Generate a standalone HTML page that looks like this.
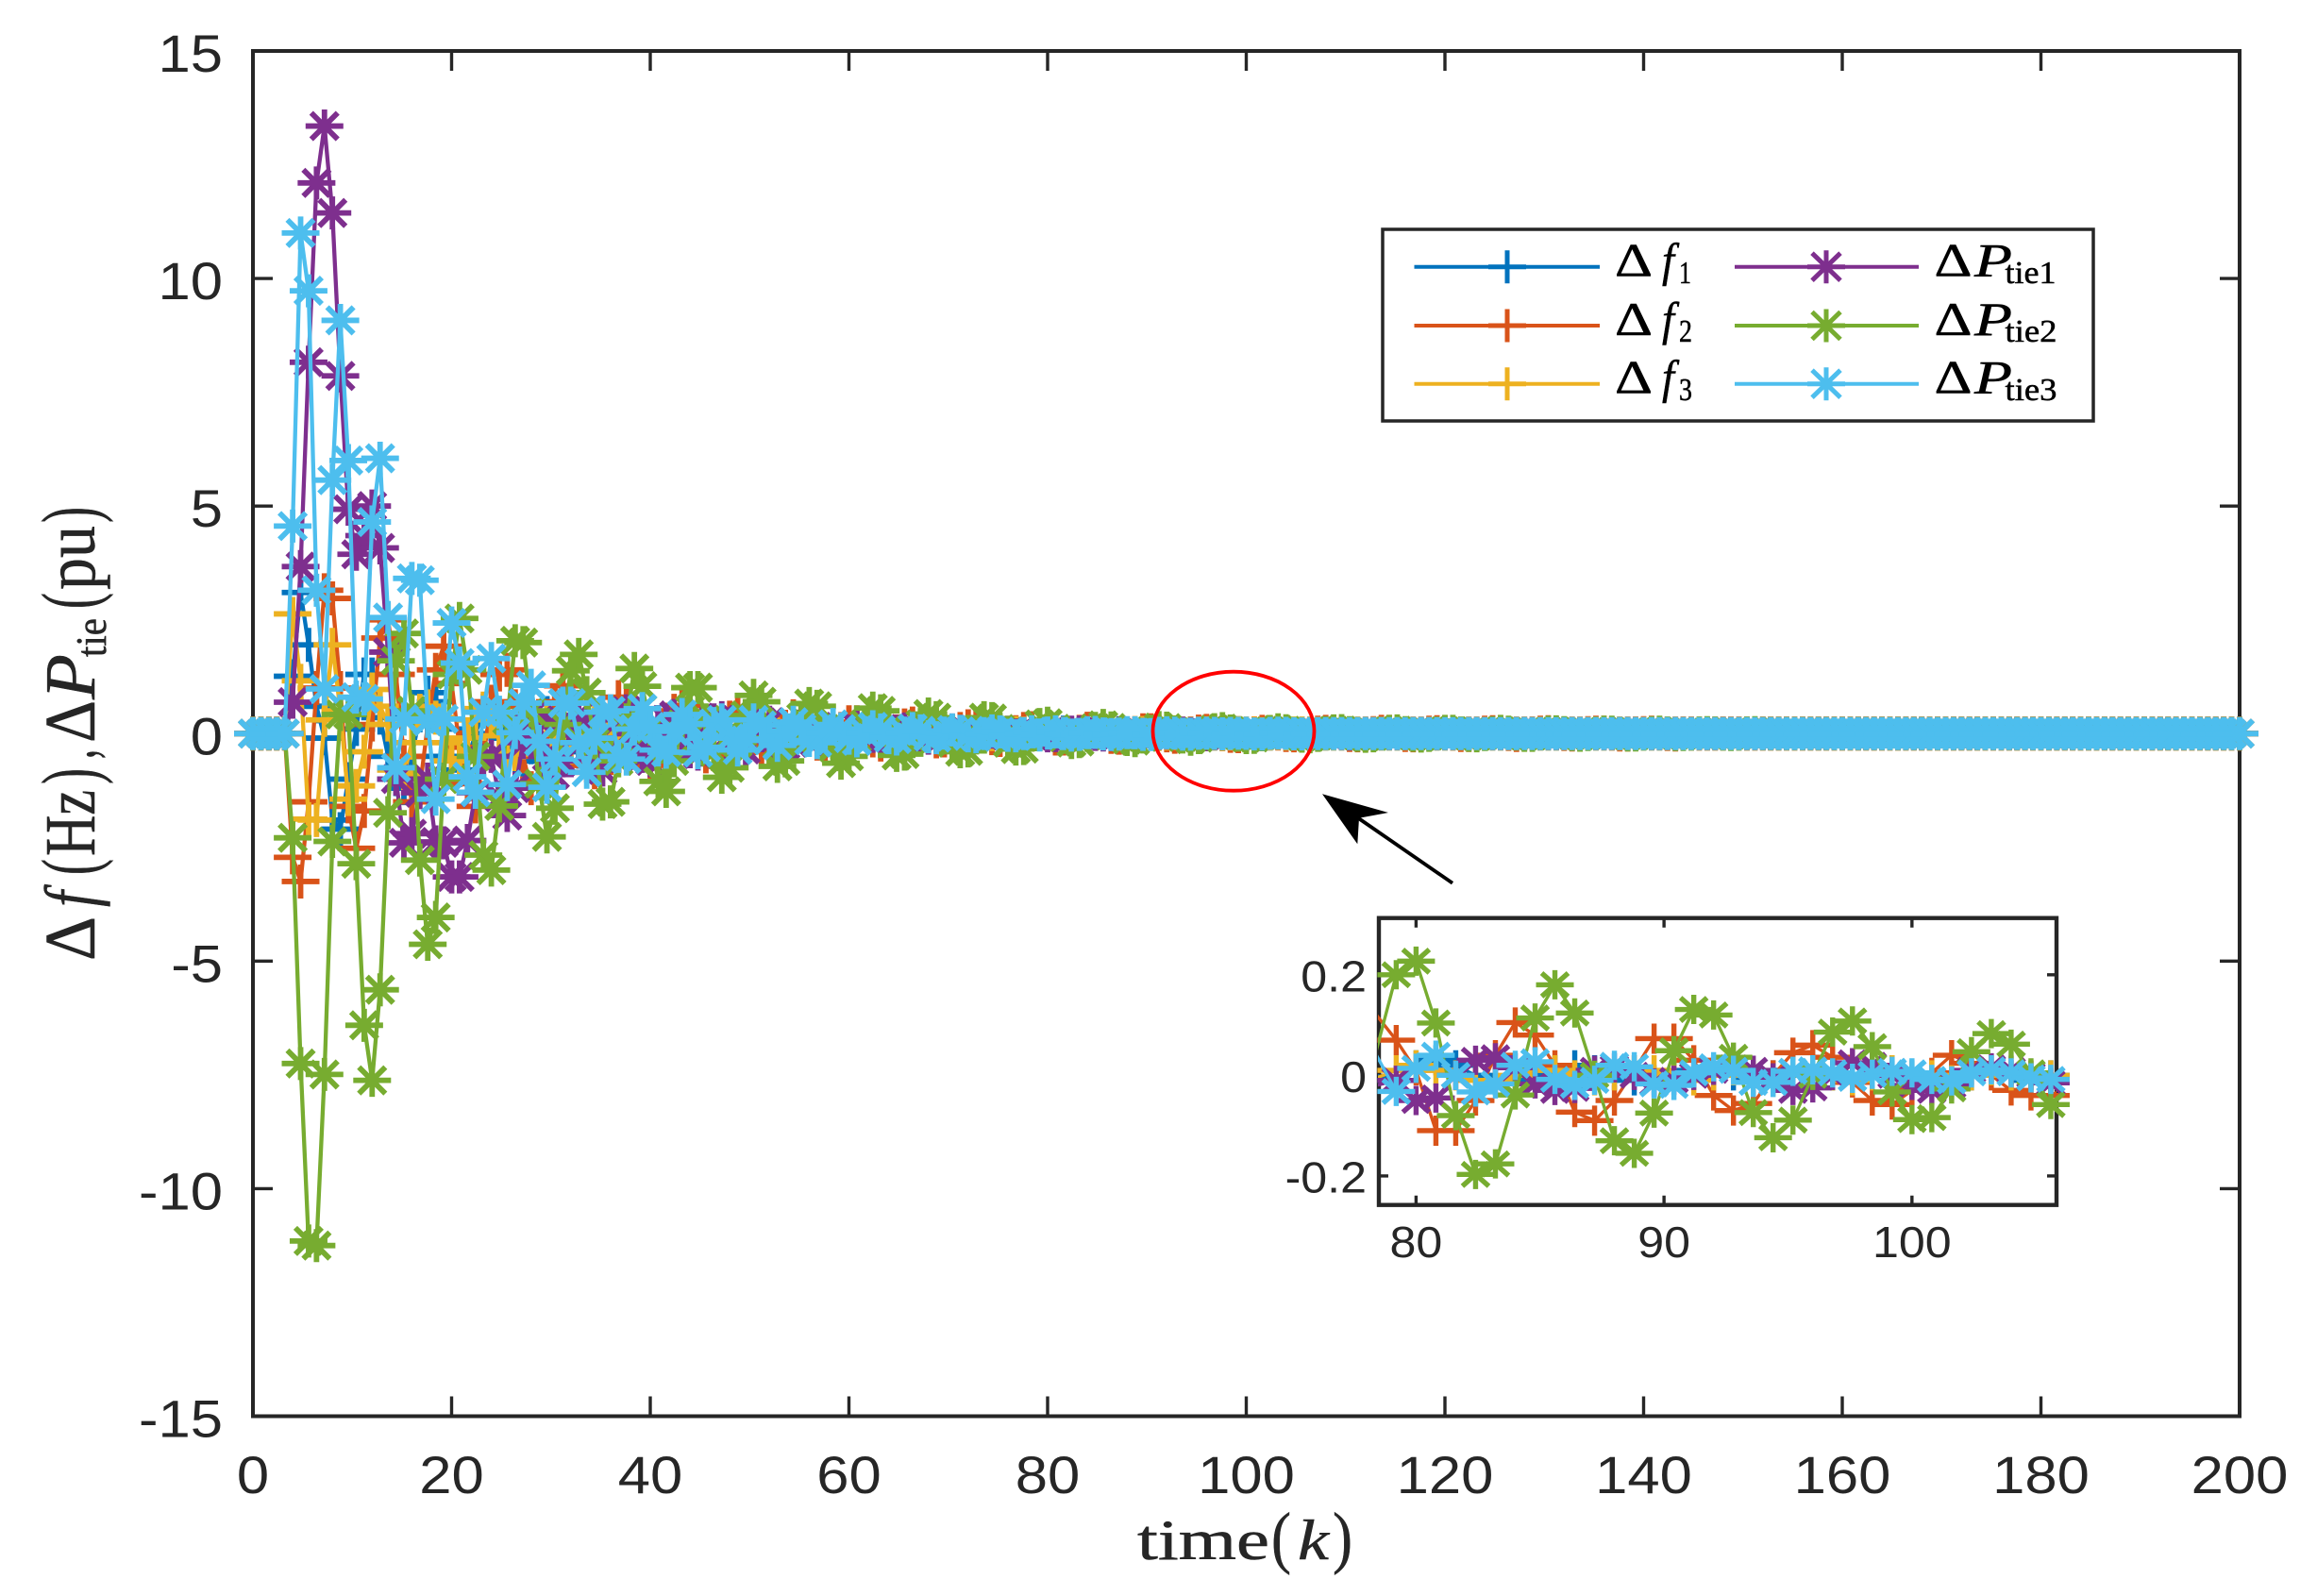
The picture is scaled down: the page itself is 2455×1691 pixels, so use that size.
<!DOCTYPE html>
<html>
<head>
<meta charset="utf-8">
<title>Frequency and tie-line power deviation</title>
<style>
html,body{margin:0;padding:0;background:#fff;width:2455px;height:1691px;max-height:1691px;overflow:hidden;font-size:0;line-height:0;}
svg{position:absolute;left:0;top:0;display:block;overflow:hidden;}
script{display:none;}
.tk{font-family:"Liberation Sans",sans-serif;fill:#262626;}
.mt{font-family:"Liberation Serif",serif;fill:#262626;stroke:#262626;stroke-width:0.5;}
.lg{font-family:"Liberation Serif",serif;fill:#000;stroke:#000;stroke-width:0.5;}
.it{font-style:italic;}
</style>
</head>
<body>
<svg id="chart" xmlns="http://www.w3.org/2000/svg" width="2455" height="1691" viewBox="0 0 2455 1691">
  <defs>
    <clipPath id="inset-clip"><rect x="1460" y="973" width="719" height="304"/></clipPath>
  </defs>
  <rect x="0" y="0" width="2455" height="1691" fill="#fff"/>
  <g id="main-axes"></g>

  <ellipse cx="1307" cy="774.7" rx="85.5" ry="63" fill="none" stroke="#ff0000" stroke-width="3.8"/>
  <g>
    <line x1="1539" y1="935.7" x2="1438" y2="866" stroke="#000" stroke-width="3.8"/>
    <polygon points="1401,841.3 1471,861 1440,866.7 1438.3,894.3" fill="#000"/>
  </g>

  <g>
    <text class="mt" x="1205" y="1652" font-size="60" textLength="140" lengthAdjust="spacingAndGlyphs">time</text>
    <text class="mt" x="1347" y="1653" font-size="73" textLength="21" lengthAdjust="spacingAndGlyphs">(</text>
    <text class="mt it" x="1375" y="1652" font-size="60" textLength="33" lengthAdjust="spacingAndGlyphs">k</text>
    <text class="mt" x="1412" y="1653" font-size="73" textLength="21" lengthAdjust="spacingAndGlyphs">)</text>
  </g>

  <g transform="translate(100,1018) rotate(-90)">
    <text class="mt" x="0" y="0" font-size="76" textLength="47" lengthAdjust="spacingAndGlyphs">Δ</text>
    <text class="mt it" x="57" y="0" font-size="76" textLength="17" lengthAdjust="spacingAndGlyphs">f</text>
    <text class="mt" x="91" y="2" font-size="84" textLength="17" lengthAdjust="spacingAndGlyphs">(</text>
    <text class="mt" x="111" y="0" font-size="76" textLength="70" lengthAdjust="spacingAndGlyphs">Hz</text>
    <text class="mt" x="187" y="2" font-size="84" textLength="17" lengthAdjust="spacingAndGlyphs">)</text>
    <text class="mt" x="214" y="0" font-size="76" textLength="10" lengthAdjust="spacingAndGlyphs">,</text>
    <text class="mt" x="231" y="0" font-size="76" textLength="45" lengthAdjust="spacingAndGlyphs">Δ</text>
    <text class="mt it" x="277" y="0" font-size="76" textLength="48" lengthAdjust="spacingAndGlyphs">P</text>
    <text class="mt" x="322" y="12" font-size="46" textLength="41" lengthAdjust="spacingAndGlyphs">tie</text>
    <text class="mt" x="373" y="2" font-size="84" textLength="17" lengthAdjust="spacingAndGlyphs">(</text>
    <text class="mt" x="393" y="0" font-size="76" textLength="68" lengthAdjust="spacingAndGlyphs">pu</text>
    <text class="mt" x="464" y="2" font-size="84" textLength="17" lengthAdjust="spacingAndGlyphs">)</text>
  </g>

  <g id="inset-axes"></g>

  <g>
    <rect x="1465" y="243" width="753" height="203" fill="#fff" stroke="#262626" stroke-width="3.5"/>
    <g>
      <line x1="1498.5" y1="282.7" x2="1695" y2="282.7" stroke="#0072BD" stroke-width="4"/>
      <path transform="translate(1597,282.7)" d="M-20 0H20M0-17.5V17.5" fill="none" stroke="#0072BD" stroke-width="5"/>
      <text class="lg" x="1711" y="292.7" font-size="50" textLength="40" lengthAdjust="spacingAndGlyphs">Δ</text>
      <text class="lg it" x="1761" y="292.7" font-size="50" textLength="13" lengthAdjust="spacingAndGlyphs">f</text>
      <text class="lg" x="1779" y="300" font-size="34" textLength="13" lengthAdjust="spacingAndGlyphs">1</text>
    </g>
    <g>
      <line x1="1498.5" y1="345" x2="1695" y2="345" stroke="#D95319" stroke-width="4"/>
      <path transform="translate(1597,345)" d="M-20 0H20M0-17.5V17.5" fill="none" stroke="#D95319" stroke-width="5"/>
      <text class="lg" x="1711" y="355" font-size="50" textLength="40" lengthAdjust="spacingAndGlyphs">Δ</text>
      <text class="lg it" x="1761" y="355" font-size="50" textLength="13" lengthAdjust="spacingAndGlyphs">f</text>
      <text class="lg" x="1779" y="362" font-size="34" textLength="14" lengthAdjust="spacingAndGlyphs">2</text>
    </g>
    <g>
      <line x1="1498.5" y1="406.7" x2="1695" y2="406.7" stroke="#EDB120" stroke-width="4"/>
      <path transform="translate(1597,406.7)" d="M-20 0H20M0-17.5V17.5" fill="none" stroke="#EDB120" stroke-width="5"/>
      <text class="lg" x="1711" y="416.7" font-size="50" textLength="40" lengthAdjust="spacingAndGlyphs">Δ</text>
      <text class="lg it" x="1761" y="416.7" font-size="50" textLength="13" lengthAdjust="spacingAndGlyphs">f</text>
      <text class="lg" x="1779" y="424" font-size="34" textLength="14" lengthAdjust="spacingAndGlyphs">3</text>
    </g>
    <g>
      <line x1="1838" y1="282.7" x2="2033" y2="282.7" stroke="#7E2F8E" stroke-width="4"/>
      <path transform="translate(1935,282.7)" d="M-20 0H20M0-17.5V17.5M-15-14.5L15 14.5M-15 14.5L15-14.5" fill="none" stroke="#7E2F8E" stroke-width="5"/>
      <text class="lg" x="2049.5" y="292.7" font-size="50" textLength="40" lengthAdjust="spacingAndGlyphs">Δ</text>
      <text class="lg it" x="2092" y="292.7" font-size="50" textLength="40" lengthAdjust="spacingAndGlyphs">P</text>
      <text class="lg" x="2124.5" y="300" font-size="34" textLength="54" lengthAdjust="spacingAndGlyphs">tie1</text>
    </g>
    <g>
      <line x1="1838" y1="345" x2="2033" y2="345" stroke="#77AC30" stroke-width="4"/>
      <path transform="translate(1935,345)" d="M-20 0H20M0-17.5V17.5M-15-14.5L15 14.5M-15 14.5L15-14.5" fill="none" stroke="#77AC30" stroke-width="5"/>
      <text class="lg" x="2049.5" y="355" font-size="50" textLength="40" lengthAdjust="spacingAndGlyphs">Δ</text>
      <text class="lg it" x="2092" y="355" font-size="50" textLength="40" lengthAdjust="spacingAndGlyphs">P</text>
      <text class="lg" x="2124.5" y="362" font-size="34" textLength="55" lengthAdjust="spacingAndGlyphs">tie2</text>
    </g>
    <g>
      <line x1="1838" y1="406.7" x2="2033" y2="406.7" stroke="#4DBEEE" stroke-width="4"/>
      <path transform="translate(1935,406.7)" d="M-20 0H20M0-17.5V17.5M-15-14.5L15 14.5M-15 14.5L15-14.5" fill="none" stroke="#4DBEEE" stroke-width="5"/>
      <text class="lg" x="2049.5" y="416.7" font-size="50" textLength="40" lengthAdjust="spacingAndGlyphs">Δ</text>
      <text class="lg it" x="2092" y="416.7" font-size="50" textLength="40" lengthAdjust="spacingAndGlyphs">P</text>
      <text class="lg" x="2124.5" y="424" font-size="34" textLength="55" lengthAdjust="spacingAndGlyphs">tie3</text>
    </g>
  </g>
</svg>

<script>
const sampleStep = 0.8;
const xTicks = [0,20,40,60,80,100,120,140,160,180,200];
const yTicks = [-15,-10,-5,0,5,10,15];
const insetXTicks = [80,90,100];
const insetYTicks = [-0.2,0,0.2];
const insetYLabels = ['-0.2','0','0.2'];

const deltaF1 = [
0,0,0,0,0,1.26,3.1,1.95,0.6,-0.1,
-1.9,-2.1,-1.0,0.1,1.3,1.3,0.35,-0.5,-1.0,-1.2,
-0.5,0.4,0.9,0.7,0.1,-0.5,-0.8,-0.6,0,0.5,
0.65,0.4,-0.1,-0.5,-0.6,-0.3,0.2,0.45,0.4,0,
-0.3,-0.4,-0.3,0.05,0.3,0.35,0.1,-0.2,-0.3,-0.2,
0.05,0.25,0.25,0.05,-0.15,-0.22,-0.12,0.08,0.18,0.15,
-0.02,-0.15,-0.15,-0.03,0.1,0.13,0.05,-0.08,-0.12,-0.05,
0.05,0.1,0.07,-0.03,-0.08,-0.07,0.01,0.07,0.07,0,
-0.05,-0.06,-0.02,0.04,0.05,0.02,-0.03,-0.04,-0.02,0.02,
0.03,0.02,-0.01,-0.03,-0.02,0.01,0.02,0.02,0,-0.01,
0.02,0.03,0.02,0,-0.01,-0.01,0,0.01,0.02,0.01,
0,-0.01,-0.01,0,0.01,0.01,0,-0.01,0,0.01,
0.01,0,-0.01,0,0.01,0,-0.01,0,0,0.01,
0,-0.01,0,0,0,0,0,0,0,0,
0,0,0,0,0,0,0,0,0,0,
0,0,0,0,0,0,0,0,0,0,
0,0,0,0,0,0,0,0,0,0,
0,0,0,0,0,0,0,0,0,0,
0,0,0,0,0,0,0,0,0,0,
0,0,0,0,0,0,0,0,0,0,
0,0,0,0,0,0,0,0,0,0,
0,0,0,0,0,0,0,0,0,0,
0,0,0,0,0,0,0,0,0,0,
0,0,0,0,0,0,0,0,0,0,
0,0,0,0,0,0,0,0,0,0,
0];
const deltaF2 = [
0,0,0,0,0,-2.72,-3.25,-1.5,1.0,3.15,
2.97,1.0,-1.6,-2.52,-1.7,0.2,2.1,2.5,1.3,-0.5,
-1.5,-1.2,0.2,1.4,1.92,1.1,-0.3,-1.1,-1.6,-0.5,
0.7,1.3,1.4,0.6,-0.5,-1.2,-1.0,-0.2,0.7,1.05,
0.8,-0.1,-0.7,-0.85,-0.4,0.3,0.8,0.7,0.2,-0.4,
-0.7,-0.5,0,0.5,0.62,0.4,-0.1,-0.5,-0.45,-0.1,
0.35,0.5,0.3,-0.1,-0.35,-0.4,-0.15,0.15,0.38,0.3,
0.05,-0.22,-0.3,-0.15,0.1,0.25,0.25,0.05,-0.15,-0.24,
-0.15,0.05,0.18,0.22,0.1,-0.08,-0.17,-0.15,-0.03,0.1,
0.16,0.13,0,-0.1,-0.14,-0.08,0.03,0.1,0.12,0.07,
0.01,-0.11,-0.11,-0.05,0.04,0.105,0.08,0.02,-0.073,-0.09,
-0.05,0.01,0.073,0.073,0.03,-0.04,-0.07,-0.056,0,0.045,
0.06,0.036,-0.014,-0.05,-0.058,-0.03,0.005,0.04,0.024,0,
-0.03,-0.04,-0.04,-0.02,0.02,0.04,0.04,0.01,-0.03,-0.04,
-0.03,0.01,0.04,0.04,0.01,-0.03,-0.04,-0.02,0.02,0.03,
0.03,0,-0.03,-0.03,-0.01,0.02,0.03,0.02,-0.01,-0.03,
-0.02,0,0.02,0.03,0.01,-0.01,-0.02,-0.02,0.01,0.02,
0.02,0,-0.02,-0.02,0,0.01,0.02,0.01,-0.01,-0.02,
0,0,0,0,0,0,0,0,0,0,
0,0,0,0,0,0,0,0,0,0,
0,0,0,0,0,0,0,0,0,0,
0,0,0,0,0,0,0,0,0,0,
0,0,0,0,0,0,0,0,0,0,
0,0,0,0,0,0,0,0,0,0,
0,0,0,0,0,0,0,0,0,0,
0];
const deltaF3 = [
0,0,0,0,0,2.63,1.16,-1.88,-1.9,0.3,
1.95,0.5,-1.44,-1.15,-0.4,0.97,0.6,0.2,-0.8,-0.9,
-0.2,0.5,0.6,0.35,-0.2,-0.6,-0.55,-0.1,0.3,0.55,
0.35,-0.05,-0.4,-0.45,-0.2,0.15,0.35,0.3,0,-0.25,
-0.3,-0.15,0.1,0.25,0.22,0.02,-0.15,-0.2,-0.1,0.08,
0.15,0.12,0,-0.1,-0.12,-0.05,0.05,0.1,0.08,0,
-0.07,-0.08,-0.03,0.04,0.07,0.04,-0.02,-0.05,-0.04,0.01,
0.04,0.03,0,-0.03,-0.03,-0.01,0.02,0.03,0.01,-0.01,
-0.02,-0.01,0.01,0.015,0.01,-0.01,-0.015,-0.01,0,0.01,
0.01,0,-0.01,-0.01,0,0.01,0.01,0,-0.005,0.01,
0.02,0.01,0,-0.01,-0.01,0,0.01,0.01,0,-0.01,
0,0.01,0.01,0,-0.01,0,0.01,0,-0.01,0,
0.01,0,-0.01,0,0.01,0,0,-0.01,0,0.01,
0,0,0,0,0,0,0,0,0,0,
0,0,0,0,0,0,0,0,0,0,
0,0,0,0,0,0,0,0,0,0,
0,0,0,0,0,0,0,0,0,0,
0,0,0,0,0,0,0,0,0,0,
0,0,0,0,0,0,0,0,0,0,
0,0,0,0,0,0,0,0,0,0,
0,0,0,0,0,0,0,0,0,0,
0,0,0,0,0,0,0,0,0,0,
0,0,0,0,0,0,0,0,0,0,
0,0,0,0,0,0,0,0,0,0,
0,0,0,0,0,0,0,0,0,0,
0];
const deltaPtie1 = [
0,0,0,0,0,0.69,3.67,8.16,12.1,13.35,
11.44,7.86,4.93,3.94,4.35,5.0,4.08,1.79,-1.0,-2.4,
-2.2,-1.3,-1.0,-2.38,-2.4,-3.15,-3.15,-2.35,-1.3,-0.6,
-0.5,-1.4,-1.8,-1.2,-0.2,0.4,0.3,-0.5,-0.9,-0.6,
0.1,0.4,0.2,-0.5,-0.8,-0.4,0.3,0.5,0,-0.5,
-0.6,-0.2,0.3,0.4,0,-0.4,-0.45,-0.1,0.3,0.35,
0,-0.3,-0.35,-0.05,0.25,0.25,-0.05,-0.25,-0.2,0.05,
0.2,0.15,-0.05,-0.2,-0.12,0.05,0.14,0.08,-0.06,-0.13,
-0.08,0.05,0.1,0.07,-0.04,-0.1,-0.06,0.03,0.08,0.05,
-0.03,-0.07,-0.04,0.03,0.05,0.03,-0.03,-0.05,-0.02,-0.01,
-0.05,-0.045,0,0.03,0.035,0.015,-0.017,-0.03,-0.026,0.01,
0.015,0,-0.015,-0.01,0,0.01,0.015,0.01,-0.005,-0.03,
-0.025,0,0.025,0.02,0,-0.02,-0.03,-0.02,0.01,0.015,
0.01,0,-0.015,-0.01,0,0.01,0.01,0,-0.01,-0.01,
0,0,0,0,0,0,0,0,0,0,
0,0,0,0,0,0,0,0,0,0,
0,0,0,0,0,0,0,0,0,0,
0,0,0,0,0,0,0,0,0,0,
0,0,0,0,0,0,0,0,0,0,
0,0,0,0,0,0,0,0,0,0,
0,0,0,0,0,0,0,0,0,0,
0,0,0,0,0,0,0,0,0,0,
0,0,0,0,0,0,0,0,0,0,
0,0,0,0,0,0,0,0,0,0,
0,0,0,0,0,0,0,0,0,0,
0];
const deltaPtie2 = [
0,0,0,0,0,-2.29,-7.25,-11.15,-11.25,-7.49,
-2.37,0.42,0.42,-2.86,-6.41,-7.62,-5.63,-1.74,1.6,2.2,
0.5,-2.78,-4.63,-4.04,-1.0,1.3,2.53,1.4,-0.5,-2.67,
-3.0,-1.59,0.3,2.04,2.0,0.5,-1.1,-2.27,-1.64,0.2,
1.38,1.74,0.9,-0.2,-1.55,-1.5,-0.6,0.3,1.43,1.04,
0.1,-1.05,-1.27,-0.6,0.2,1.01,1.01,0.3,-0.4,-0.96,
-0.75,-0.2,0.4,0.84,0.7,-0.1,-0.72,-0.6,-0.1,0.35,
0.66,0.6,0.1,-0.3,-0.65,-0.5,-0.1,0.2,0.56,0.5,
0.1,-0.48,-0.45,-0.1,0.2,0.43,0.35,0,-0.2,-0.4,
-0.38,-0.05,0.35,0.33,0.1,-0.2,-0.34,-0.33,0.05,0.2,
0.227,0.104,-0.08,-0.197,-0.176,-0.039,0.114,0.18,0.124,0,
-0.13,-0.155,-0.075,0.049,0.131,0.12,0.036,-0.074,-0.124,-0.089,
0,0.086,0.108,0.057,-0.033,-0.088,-0.084,-0.027,0.047,0.083,
0.062,0.005,-0.058,-0.07,-0.04,0.02,0.06,0.065,0.02,-0.04,
-0.06,-0.05,0,0.05,0.06,0.02,-0.04,-0.055,-0.04,0.01,
0.05,0.05,0.01,-0.04,-0.05,-0.02,0.02,0.05,0.03,-0.01,
-0.04,-0.04,0,0.03,0.04,0.02,-0.02,-0.035,-0.02,0.01,
0.03,0.03,0,-0.03,-0.03,-0.01,0.02,0.03,0.01,-0.02,
-0.02,-0.01,0.01,0.02,0.01,-0.01,-0.02,-0.01,0.01,0.02,
0,0,0,0,0,0,0,0,0,0,
0,0,0,0,0,0,0,0,0,0,
0,0,0,0,0,0,0,0,0,0,
0,0,0,0,0,0,0,0,0,0,
0,0,0,0,0,0,0,0,0,0,
0,0,0,0,0,0,0,0,0,0,
0];
const deltaPtie3 = [
0,0,0,0,0,4.56,11.0,9.73,3.15,0.98,
5.57,9.08,6.0,0.8,0.76,4.65,6.05,2.55,-0.75,0.32,
3.41,3.37,0.27,-1.44,0.32,2.43,1.55,-0.95,-1.29,0.47,
1.65,0.47,-1.12,0.02,0.67,1.06,-0.17,-1.18,-0.56,0.67,
0.67,-0.2,-0.85,-0.1,0.47,0.5,-0.5,-0.56,0.1,0.55,
0.15,-0.36,-0.41,0.05,0.42,0.2,-0.42,-0.3,0.22,0.3,
-0.1,-0.36,-0.15,0.3,0.18,-0.12,-0.26,0.05,0.25,0.12,
-0.15,-0.2,0.02,0.2,0.1,-0.1,-0.16,0.02,0.15,0.08,
-0.09,-0.12,0.01,0.11,0.06,-0.07,-0.09,0.01,0.08,0.05,
-0.05,-0.07,0,0.06,0.04,-0.04,-0.05,0,0.04,-0.032,
0.014,0.04,0,-0.033,-0.017,0.02,0.027,-0.008,-0.02,-0.01,
0.02,0.017,-0.017,-0.02,0.005,0.017,0.01,-0.014,-0.014,0.008,
0.011,0.005,-0.006,0.002,0.008,0.005,-0.008,-0.011,0.005,0.011,
0.005,-0.005,-0.008,0,0,0,0,0,0,0,
0,0,0,0,0,0,0,0,0,0,
0,0,0,0,0,0,0,0,0,0,
0,0,0,0,0,0,0,0,0,0,
0,0,0,0,0,0,0,0,0,0,
0,0,0,0,0,0,0,0,0,0,
0,0,0,0,0,0,0,0,0,0,
0,0,0,0,0,0,0,0,0,0,
0,0,0,0,0,0,0,0,0,0,
0,0,0,0,0,0,0,0,0,0,
0,0,0,0,0,0,0,0,0,0,
0,0,0,0,0,0,0,0,0,0,
0];

const seriesNames = ['delta-f1','delta-f2','delta-f3','delta-ptie1','delta-ptie2','delta-ptie3'];
const seriesValues = [deltaF1,deltaF2,deltaF3,deltaPtie1,deltaPtie2,deltaPtie3];
const seriesColors = ['#0072BD','#D95319','#EDB120','#7E2F8E','#77AC30','#4DBEEE'];
const seriesMarkers = ['plus','plus','plus','star','star','star'];

const NS = 'http://www.w3.org/2000/svg';
function node(parent, tag, attrs) {
  const el = document.createElementNS(NS, tag);
  for (const key in attrs) el.setAttribute(key, attrs[key]);
  parent.appendChild(el);
  return el;
}

const mainFrame = {left:268, right:2373, top:54, bottom:1500.5, xMin:0, xMax:200, yMin:-15, yMax:15};
const insetFrame = {left:1461, right:2179, top:972.7, bottom:1276.7, xMin:78.5, xMax:105.83, yMin:-0.2577, yMax:0.3127};

function xScale(frame, v) {
  return frame.left + (v - frame.xMin) / (frame.xMax - frame.xMin) * (frame.right - frame.left);
}
function yScale(frame, v) {
  return frame.bottom - (v - frame.yMin) / (frame.yMax - frame.yMin) * (frame.bottom - frame.top);
}

function markerPath(kind, x, y, sx, sy) {
  const hx = 20 * sx, hy = sy, dx = 14 * sx, dy = sy * 0.8;
  let d = 'M' + (x - hx) + ' ' + y + 'H' + (x + hx) + 'M' + x + ' ' + (y - hy) + 'V' + (y + hy);
  if (kind === 'star') {
    d += 'M' + (x - dx) + ' ' + (y - dy) + 'L' + (x + dx) + ' ' + (y + dy);
    d += 'M' + (x - dx) + ' ' + (y + dy) + 'L' + (x + dx) + ' ' + (y - dy);
  }
  return d;
}

function drawFrame(parent, frame, opts) {
  const box = node(parent, 'rect', {x:frame.left, y:frame.top, width:frame.right-frame.left, height:frame.bottom-frame.top, fill:'#fff', stroke:'#262626', 'stroke-width':opts.spine});
  
  
  opts.xTicks.forEach(function (v, i) {
    const x = xScale(frame, v);
    const a = node(parent, 'path', {d:'M'+x+' '+frame.bottom+'V'+(frame.bottom-opts.tickLen)+'M'+x+' '+frame.top+'V'+(frame.top+opts.tickLen), stroke:'#262626', 'stroke-width':opts.tickW, fill:'none'});
    
    
    const t = node(parent, 'text', {'class':'tk', 'font-size':opts.fontSize, 'text-anchor':'middle', transform:'translate('+x+','+opts.xBase+') scale('+opts.stretch+',1)'});
    
    
    t.textContent = opts.xLabels[i];
  });
  opts.yTicks.forEach(function (v, i) {
    const y = yScale(frame, v);
    const a = node(parent, 'path', {d:'M'+frame.left+' '+y+'H'+(frame.left+opts.tickLen)+'M'+frame.right+' '+y+'H'+(frame.right-opts.tickLen), stroke:'#262626', 'stroke-width':opts.tickW, fill:'none'});
    
    
    const t = node(parent, 'text', {'class':'tk', 'font-size':opts.fontSize, 'text-anchor':'end', transform:'translate('+opts.yRight+','+(y+opts.yBase)+') scale('+opts.stretch+',1)'});
    
    
    t.textContent = opts.yLabels[i];
  });
}

function drawSeries(parent, frame, opts) {
  seriesValues.forEach(function (values, s) {
    const color = seriesColors[s];
    const g = node(parent, 'g', {});
    
    
    const pts = values.map(function (v, i) {
      return xScale(frame, i * sampleStep).toFixed(2) + ',' + yScale(frame, v).toFixed(2);
    });
    const attrs = {points:pts.join(' '), fill:'none', stroke:color, 'stroke-width':opts.lineW, 'stroke-linejoin':'round'};
    if (opts.clip) attrs['clip-path'] = 'url(#' + opts.clip + ')';
    const line = node(g, 'polyline', attrs);
    
    
    values.forEach(function (v, i) {
      const k = i * sampleStep;
      if (k < frame.xMin || k > frame.xMax) return;
      const m = node(g, 'path', {d:markerPath(seriesMarkers[s], xScale(frame, k), yScale(frame, v), opts.sx, seriesMarkers[s] === 'star' ? opts.hyStar : opts.hyPlus), fill:'none', stroke:color, 'stroke-width':opts.markW});
      
      
    });
  });
}

const mainAxes = document.getElementById('main-axes');
drawFrame(mainAxes, mainFrame, {
  prefix:'main', spine:4, tickLen:21, tickW:3.4, fontSize:56, stretch:1.1,
  xTicks:xTicks, xLabels:xTicks.map(String), xBase:1582,
  yTicks:yTicks, yLabels:yTicks.map(String), yRight:236, yBase:22
});
drawSeries(mainAxes, mainFrame, {prefix:'main', lineW:4.3, markW:5.8, sx:1, hyStar:17.5, hyPlus:18});

const insetAxes = document.getElementById('inset-axes');
drawFrame(insetAxes, insetFrame, {
  prefix:'inset', spine:4.4, tickLen:10, tickW:3.4, fontSize:46, stretch:1.09,
  xTicks:insetXTicks, xLabels:insetXTicks.map(String), xBase:1332,
  yTicks:insetYTicks, yLabels:insetYLabels, yRight:1448, yBase:17.5
});
drawSeries(insetAxes, insetFrame, {prefix:'inset', lineW:3.4, markW:5.4, sx:1, hyStar:15.5, hyPlus:16, clip:'inset-clip'});
</script>
</body>
</html>
